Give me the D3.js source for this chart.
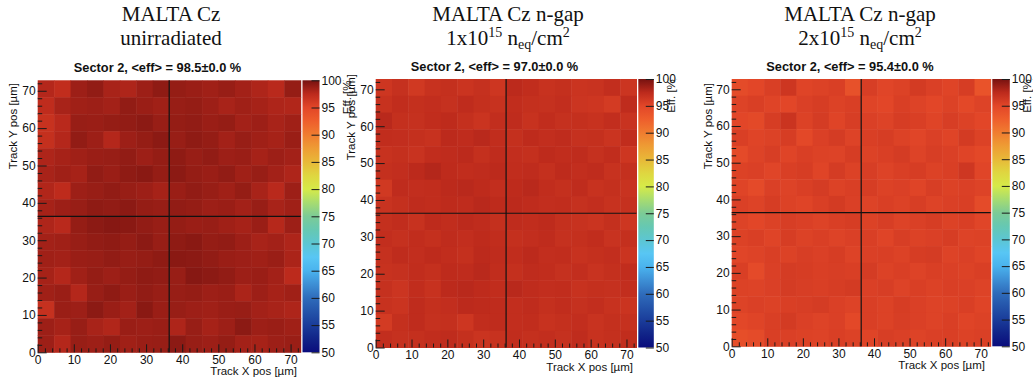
<!DOCTYPE html>
<html>
<head>
<meta charset="utf-8">
<script src="https://cdn.jsdelivr.net/npm/d3@7"></script>
<style>
  body { margin: 0; background: #fff; }
  svg { display: block; }
  .tick text { font-family: "Liberation Sans", Arial, sans-serif; }
</style>
</head>
<body>
<svg id="chart" width="1033" height="383"></svg>
<script>
// ---- data ----
// efficiency maps, 16x16 bins, row 0 = top bin (Y 68.25-72.8 um), column 0 = X 0-4.55 um
const binCount = 16;
const binWidth = 4.55;   // um
const posMax = 72.8;     // um
const crossAt = 36.4;    // pixel boundary, um

const effUnirr = [
  [97.8,97.2,98.6,99.0,98.2,98.0,98.6,99.1,98.9,98.7,98.5,98.8,98.4,98.0,97.6,98.9],
  [97.3,98.2,98.5,98.6,98.4,99.0,98.7,98.5,98.8,98.9,98.6,98.2,98.5,98.3,98.0,97.9],
  [96.8,97.6,98.8,98.7,98.9,99.0,99.2,98.8,98.9,99.0,98.7,98.9,98.4,98.6,98.2,98.5],
  [97.0,97.8,99.0,98.6,97.8,98.6,98.9,99.2,98.8,99.1,98.9,98.4,98.8,98.5,98.3,98.7],
  [98.0,98.3,98.5,98.7,98.8,99.0,98.6,98.9,99.1,98.8,99.0,98.6,98.7,98.3,98.6,98.4],
  [98.2,98.5,98.3,99.0,98.7,99.1,99.3,98.9,99.2,98.9,98.7,99.0,98.5,98.8,98.4,98.0],
  [97.9,97.4,98.6,98.8,99.0,98.8,98.6,98.3,98.7,99.0,98.8,98.5,98.9,98.2,97.6,98.6],
  [98.3,98.6,98.8,99.1,99.0,99.2,98.9,98.8,99.0,98.9,98.6,98.7,98.4,98.8,98.2,98.5],
  [98.0,97.6,98.9,99.2,99.4,99.3,99.0,98.8,98.9,98.7,98.8,98.5,98.3,98.7,97.7,98.6],
  [98.4,98.5,98.8,99.0,99.1,98.9,99.2,98.8,99.1,99.3,98.9,99.0,98.6,98.2,98.4,98.0],
  [98.5,98.4,98.7,98.8,99.0,98.8,98.9,99.1,99.3,99.2,99.0,98.7,98.6,98.5,98.7,98.1],
  [98.3,97.8,98.5,98.9,98.6,98.9,99.1,99.0,98.8,99.4,99.2,99.0,98.6,98.7,98.4,97.5],
  [98.5,98.7,97.8,98.8,99.1,98.7,99.0,98.8,98.8,98.9,98.6,98.7,98.1,98.6,98.3,98.5],
  [96.9,98.7,98.6,99.2,98.7,98.4,99.3,98.7,98.8,98.6,98.5,98.7,98.8,98.4,98.2,98.0],
  [98.6,98.3,98.8,98.2,97.9,98.7,98.6,98.7,98.0,98.8,98.3,98.6,99.2,98.6,98.7,98.5],
  [98.6,97.8,98.8,98.6,98.9,98.5,98.7,98.8,99.2,98.8,98.6,98.9,98.4,98.3,98.6,98.7]
];
const eff1e15 = [
  [96.4,96.9,96.2,96.8,97.0,96.6,96.9,96.4,97.5,97.2,96.8,97.0,96.6,96.7,97.1,96.5],
  [96.8,97.2,97.0,97.1,96.9,97.3,97.0,96.8,97.2,97.0,96.9,97.1,96.5,96.4,96.0,97.3],
  [97.6,97.0,96.9,97.2,97.4,97.0,96.6,97.1,97.3,96.8,97.2,96.9,97.0,96.8,97.1,96.7],
  [97.2,97.1,97.0,96.8,97.5,97.3,97.6,97.2,97.0,97.4,97.1,97.3,96.9,97.0,96.6,97.2],
  [96.8,97.0,96.7,97.2,97.3,97.5,97.0,97.3,97.1,97.0,97.4,97.2,97.3,96.9,97.2,96.4],
  [97.0,97.1,97.5,97.8,97.4,97.2,97.3,97.5,97.2,97.3,97.0,97.4,97.1,97.3,96.8,97.0],
  [96.2,97.3,97.1,97.2,97.5,97.6,97.4,97.1,97.4,97.6,97.2,97.0,97.3,96.8,97.0,96.7],
  [96.7,97.0,97.3,97.2,97.4,97.3,97.6,97.4,97.5,97.3,97.1,97.2,96.9,97.1,96.8,96.9],
  [97.0,97.2,96.8,97.4,97.2,97.5,97.3,97.0,97.3,97.2,97.4,97.0,96.8,96.6,97.0,96.4],
  [97.1,96.9,97.2,97.0,97.3,97.1,97.4,97.2,97.0,97.1,97.3,96.9,97.0,97.2,96.7,97.0],
  [96.9,97.3,97.1,97.4,97.2,97.0,97.5,97.3,97.2,97.5,97.1,97.2,96.8,97.0,97.1,96.6],
  [96.8,96.9,97.2,97.0,97.4,97.3,97.6,97.2,97.0,97.3,97.2,96.9,97.1,96.7,97.0,97.2],
  [96.9,96.5,97.2,96.8,97.5,97.6,97.4,97.2,97.6,97.3,97.1,97.2,96.8,97.0,96.9,97.1],
  [96.8,96.6,97.3,97.0,97.1,97.5,97.4,97.3,97.1,97.3,97.0,97.2,96.9,97.1,96.8,96.6],
  [96.0,97.0,97.3,96.9,97.0,96.4,97.2,97.3,97.1,97.2,96.8,97.0,97.1,96.7,97.0,96.9],
  [97.1,96.9,97.0,97.2,97.3,97.0,96.6,96.8,97.2,97.0,97.1,96.9,97.3,96.8,97.0,97.2]
];
const eff2e15 = [
  [94.5,95.0,95.6,96.4,95.2,95.4,95.6,93.9,95.7,95.1,95.4,96.0,95.5,95.2,95.8,93.6],
  [95.3,95.6,95.2,95.0,95.5,95.8,95.4,95.6,95.2,95.0,95.6,95.3,95.0,95.4,94.8,95.3],
  [95.0,94.7,95.8,96.6,95.4,95.9,95.2,95.7,95.5,95.3,95.8,95.6,95.2,95.7,95.4,95.0],
  [95.6,95.2,95.4,95.8,94.8,95.5,95.9,95.3,95.6,95.8,95.4,95.1,95.5,95.2,96.0,95.4],
  [94.6,95.3,95.7,95.2,95.6,95.4,95.3,95.8,95.4,95.6,95.9,95.3,95.7,95.5,95.2,94.8],
  [95.4,95.5,95.1,95.6,95.8,95.2,95.9,95.4,95.7,95.3,95.6,95.8,95.4,95.6,96.3,95.1],
  [95.2,94.6,95.5,95.3,95.6,95.9,95.4,95.6,95.8,95.4,95.5,95.2,95.7,95.4,95.5,95.3],
  [95.5,95.3,95.8,95.4,95.2,95.6,96.0,95.5,95.3,95.6,95.4,95.7,95.3,95.5,95.6,94.5],
  [95.3,95.0,95.4,95.7,95.5,95.3,95.6,95.8,95.4,95.7,95.3,95.5,95.8,95.4,95.6,95.1],
  [95.4,95.6,95.2,95.8,95.4,95.6,95.3,95.5,95.6,95.2,95.7,95.4,95.5,95.8,95.3,95.4],
  [95.1,95.3,95.6,95.4,95.7,95.5,95.8,95.3,95.5,95.6,95.4,95.8,95.9,95.3,95.5,95.2],
  [95.6,94.6,95.5,95.9,95.8,95.6,95.7,95.6,95.9,95.4,95.6,95.3,95.6,95.5,95.4,95.6],
  [95.4,95.3,95.5,95.9,95.7,95.6,95.8,96.0,95.5,95.7,95.3,95.6,95.4,95.6,95.5,95.3],
  [95.3,95.5,95.4,95.6,95.7,95.9,95.5,95.3,95.6,95.4,95.8,95.5,95.3,95.4,95.6,95.2],
  [94.9,95.2,95.6,96.0,95.5,95.3,95.5,94.8,95.6,95.4,95.7,95.5,95.3,95.6,95.2,95.4],
  [94.2,94.5,95.6,95.5,95.4,95.3,95.6,95.4,95.2,95.7,95.5,95.3,95.5,95.6,95.4,95.5]
];

const titleLines = ["MALTA Cz", "MALTA Cz n-gap", "MALTA Cz n-gap"];
const fluence = [null, "1", "2"];          // x10^15 neq/cm2
const meanEff = ["98.5", "97.0", "95.4"];

const majorTicks = [0, 10, 20, 30, 40, 50, 60, 70];
const minorTicks = [2,4,6,8,12,14,16,18,22,24,26,28,32,34,36,38,42,44,46,48,52,54,56,58,62,64,66,68,72];
const zTicks = [50, 55, 60, 65, 70, 75, 80, 85, 90, 95, 100];

// palette (ROOT-like rainbow)
const paletteStops  = [50, 52.5, 55, 57.5, 60, 62.5, 65, 67.5, 70, 72.5, 75, 77.5, 80, 82.5, 85, 87.5, 90, 92.5, 95, 97.5, 100];
const paletteColors = ["#0a0c7c","#112488","#1a3c9a","#2454aa","#2f6cbb","#3d8fd5","#4ab3ee","#58c6f4","#5cc6d2","#66c8b2",
                       "#7ccb96","#a7dc70","#d6ea48","#dfd640","#e8b838","#ee9c34","#f07c30","#ee5e2c","#e24628","#bc2a1c","#761210"];

// ---- layout ----
const panels = [
  { data: effUnirr, x0: 37.7, x1: 300.7, top: 80.3, bottom: 352.3, cbX: 302.5, cbW: 17,
    titleX: 171, subX: 157.5, subY: 71.7, yTitleX: 17, yTitleY: 83, xTitleR: 297, xTitleY: 375, effX: 351 },
  { data: eff1e15, x0: 375.7, x1: 636.5, top: 79, bottom: 347.5, cbX: 638.3, cbW: 15.5,
    titleX: 508, subX: 494.5, subY: 70.7, yTitleX: 355, yTitleY: 74, xTitleR: 633, xTitleY: 371, effX: 675 },
  { data: eff2e15, x0: 731.7, x1: 990.7, top: 79, bottom: 346.3, cbX: 992.3, cbW: 17.5,
    titleX: 860, subX: 850, subY: 71, yTitleX: 712, yTitleY: 83, xTitleR: 985, xTitleY: 369, effX: 1031 }
];

const sans = "'Liberation Sans', Arial, Helvetica, sans-serif";
const serif = "'Liberation Serif', 'Times New Roman', serif";

const svg = d3.select("#chart");
const color = d3.scaleLinear().domain(paletteStops).range(paletteColors).clamp(true);

// colorbar gradient
const defs = svg.append("defs");
const grad = defs.append("linearGradient").attr("id", "pal")
  .attr("x1", 0).attr("y1", 1).attr("x2", 0).attr("y2", 0);
grad.selectAll("stop").data(paletteStops).join("stop")
  .attr("offset", d => (d - 50) / 50)
  .attr("stop-color", (d, i) => paletteColors[i]);

panels.forEach((p, pi) => {
  const g = svg.append("g");
  const x = d3.scaleLinear().domain([0, posMax]).range([p.x0, p.x1]);
  const y = d3.scaleLinear().domain([0, posMax]).range([p.bottom, p.top]);

  // cells
  const cells = [];
  p.data.forEach((row, r) => row.forEach((v, c) => cells.push({ r, c, v })));
  g.append("g").selectAll("rect").data(cells).join("rect")
    .attr("x", d => x(d.c * binWidth))
    .attr("y", d => y((binCount - d.r) * binWidth))
    .attr("width", x(binWidth) - x(0) + 0.5)
    .attr("height", y(0) - y(binWidth) + 0.5)
    .attr("fill", d => color(d.v));

  // crosshair
  g.append("line").attr("x1", x(crossAt)).attr("x2", x(crossAt))
    .attr("y1", y(0)).attr("y2", y(posMax)).attr("stroke", "#111").attr("stroke-width", 1.2);
  g.append("line").attr("x1", x(0)).attr("x2", x(posMax))
    .attr("y1", y(crossAt)).attr("y2", y(crossAt)).attr("stroke", "#111").attr("stroke-width", 1.2);

  // axes
  const styleAxis = sel => {
    sel.select(".domain").remove();
    sel.selectAll("line").attr("stroke", "#1a1a1a");
    sel.selectAll("text").attr("fill", "#111").style("font-family", sans).style("font-size", "12px");
  };
  g.append("g").attr("transform", `translate(0,${p.bottom})`)
    .call(d3.axisBottom(x).tickValues(majorTicks).tickSize(-8).tickPadding(3)).call(styleAxis);
  g.append("g").attr("transform", `translate(0,${p.bottom})`)
    .call(d3.axisBottom(x).tickValues(minorTicks).tickSize(-4).tickFormat("")).call(styleAxis);
  g.append("g").attr("transform", `translate(${p.x0},0)`)
    .call(d3.axisLeft(y).tickValues(majorTicks).tickSize(-9).tickPadding(2)).call(styleAxis);
  g.append("g").attr("transform", `translate(${p.x0},0)`)
    .call(d3.axisLeft(y).tickValues(minorTicks).tickSize(-4.5).tickFormat("")).call(styleAxis);

  // colorbar
  const z = d3.scaleLinear().domain([50, 100]).range([p.bottom, p.top]);
  g.append("rect").attr("x", p.cbX).attr("y", p.top).attr("width", p.cbW)
    .attr("height", p.bottom - p.top).attr("fill", "url(#pal)");
  g.append("g").attr("transform", `translate(${p.cbX + p.cbW},0)`)
    .call(d3.axisRight(z).tickValues(zTicks).tickSize(-8).tickPadding(2)).call(styleAxis);

  // axis titles
  g.append("text").attr("x", p.xTitleR).attr("y", p.xTitleY).attr("text-anchor", "end")
    .style("font-family", sans).style("font-size", "11.5px").attr("fill", "#111")
    .text("Track X pos [µm]");
  g.append("text").attr("transform", `translate(${p.yTitleX},${p.yTitleY}) rotate(-90)`)
    .attr("text-anchor", "end")
    .style("font-family", sans).style("font-size", "11.5px").attr("fill", "#111")
    .text("Track Y pos [µm]");
  const clipId = "clip" + pi;
  defs.append("clipPath").attr("id", clipId).append("rect")
    .attr("x", p.effX - 15).attr("y", p.top).attr("width", 20).attr("height", 60);
  g.append("g").attr("clip-path", `url(#${clipId})`)
    .append("text")
    .attr("transform", `translate(${p.effX},${p.top - 3}) rotate(-90)`)
    .attr("text-anchor", "end")
    .style("font-family", sans).style("font-size", "11.5px").attr("fill", "#111")
    .text("Eff. [%]");

  // titles
  g.append("text").attr("x", p.titleX).attr("y", 21).attr("text-anchor", "middle")
    .style("font-family", serif).style("font-size", "21px").attr("fill", "#111")
    .text(titleLines[pi]);
  const t2 = g.append("text").attr("x", p.titleX).attr("y", 45).attr("text-anchor", "middle")
    .style("font-family", serif).style("font-size", "21px").attr("fill", "#111");
  if (fluence[pi] === null) {
    t2.text("unirradiated");
  } else {
    t2.append("tspan").text(fluence[pi] + "x10");
    t2.append("tspan").attr("dy", -8).style("font-size", "14px").text("15");
    t2.append("tspan").attr("dy", 8).text(" n");
    t2.append("tspan").attr("dy", 4).style("font-size", "14px").text("eq");
    t2.append("tspan").attr("dy", -4).text("/cm");
    t2.append("tspan").attr("dy", -8).style("font-size", "14px").text("2");
  }
  g.append("text").attr("x", p.subX).attr("y", p.subY).attr("text-anchor", "middle")
    .style("font-family", sans).style("font-size", "12.8px").style("font-weight", "bold").attr("fill", "#111")
    .text(`Sector 2, <eff> = ${meanEff[pi]}±0.0 %`);
});
</script>
</body>
</html>
